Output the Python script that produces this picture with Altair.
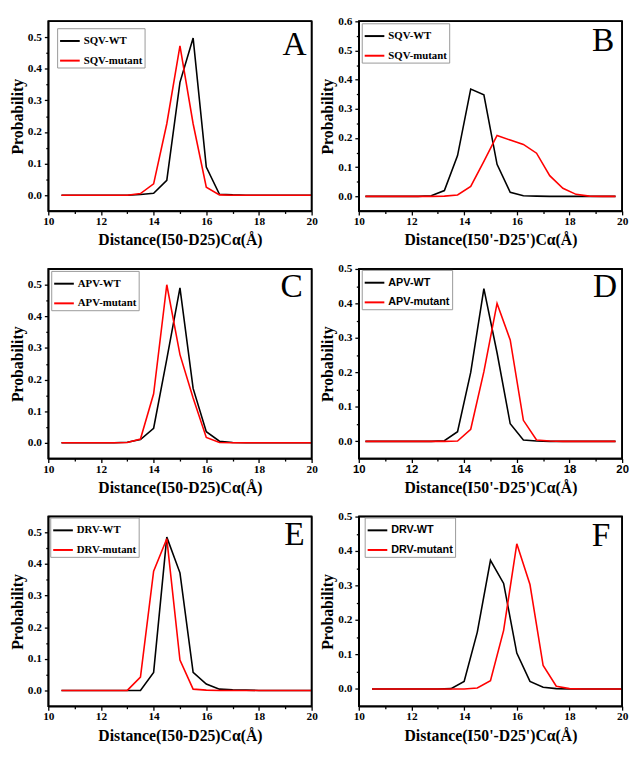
import altair as alt
import pandas as pd

# ---------------- data ----------------
X_HALF = [10.5, 11.0, 11.5, 12.0, 12.5, 13.0, 13.5, 14.0, 14.5, 15.0,
          15.5, 16.0, 16.5, 17.0, 17.5, 18.0, 18.5, 19.0, 19.5, 20.0]
X_QUARTER = [10.25, 10.75, 11.25, 11.75, 12.25, 12.75, 13.25, 13.75, 14.25, 14.75,
             15.25, 15.75, 16.25, 16.75, 17.25, 17.75, 18.25, 18.75, 19.25, 19.75]

A_WT = [0, 0, 0, 0, 0, 0, 0.002, 0.006, 0.047, 0.357, 0.497, 0.089, 0.003, 0.001, 0, 0, 0, 0, 0, 0]
A_MUT = [0, 0, 0, 0, 0, 0, 0.005, 0.036, 0.226, 0.472, 0.226, 0.025, 0.001, 0, 0, 0, 0, 0, 0, 0]

B_WT = [0, 0, 0, 0, 0, 0.002, 0.02, 0.14, 0.368, 0.348, 0.11, 0.014, 0.002, 0.001, 0, 0, 0, 0, 0, 0]
B_MUT = [0, 0, 0, 0, 0, 0, 0.001, 0.005, 0.034, 0.12, 0.209, 0.193, 0.178, 0.148, 0.071, 0.028, 0.007, 0.001, 0, 0]

C_WT = [0, 0, 0, 0, 0, 0.002, 0.01, 0.046, 0.265, 0.49, 0.172, 0.035, 0.005, 0.001, 0, 0, 0, 0, 0, 0]
C_MUT = [0, 0, 0, 0, 0, 0.001, 0.012, 0.155, 0.5, 0.279, 0.142, 0.017, 0.001, 0, 0, 0, 0, 0, 0, 0]

D_WT = [0, 0, 0, 0, 0, 0, 0.002, 0.028, 0.2, 0.443, 0.257, 0.051, 0.004, 0.001, 0, 0, 0, 0, 0, 0]
D_MUT = [0, 0, 0, 0, 0, 0, 0, 0.001, 0.035, 0.202, 0.4, 0.294, 0.061, 0.004, 0.001, 0, 0, 0, 0, 0]

E_WT = [0, 0, 0, 0, 0, 0, 0, 0.057, 0.485, 0.372, 0.057, 0.02, 0.004, 0.002, 0.001, 0, 0, 0, 0, 0]
E_MUT = [0, 0, 0, 0, 0, 0, 0.042, 0.377, 0.48, 0.096, 0.004, 0.001, 0, 0, 0, 0, 0, 0, 0, 0]

F_WT = [0, 0, 0, 0, 0, 0, 0.001, 0.022, 0.165, 0.373, 0.306, 0.104, 0.022, 0.005, 0.001, 0, 0, 0, 0, 0]
F_MUT = [0, 0, 0, 0, 0, 0, 0, 0, 0.003, 0.024, 0.17, 0.421, 0.303, 0.068, 0.008, 0.001, 0, 0, 0, 0]

X_TICKS = [10, 11, 12, 13, 14, 15, 16, 17, 18, 19, 20]
Y_TICKS_055 = [0, 0.05, 0.1, 0.15, 0.2, 0.25, 0.3, 0.35, 0.4, 0.45, 0.5]
Y_TICKS_06 = [0, 0.05, 0.1, 0.15, 0.2, 0.25, 0.3, 0.35, 0.4, 0.45, 0.5, 0.55, 0.6]
Y_TICKS_05 = [0, 0.05, 0.1, 0.15, 0.2, 0.25, 0.3, 0.35, 0.4, 0.45, 0.5]

TITLE_I50 = "Distance(I50-D25)C\u03b1(\u00c5)"
TITLE_I50P = "Distance(I50'-D25')C\u03b1(\u00c5)"

SERIF = "Liberation Serif"
SANS = "Liberation Sans"
W = 268
H = 193


def panel(letter, drug, xs, wt, mut, ytop, yticks, xtitle, legend_font, xtick_font,
          lx, ly, letter_dx, letter_base):
    wt_name = f"{drug}-WT"
    mut_name = f"{drug}-mutant"
    df = pd.DataFrame({
        "d": xs + xs,
        "p": wt + mut,
        "s": [wt_name] * len(xs) + [mut_name] * len(xs),
    })
    is_tenth = "abs(datum.value*10 - round(datum.value*10)) < 0.001"
    xaxis = alt.Axis(
        values=X_TICKS, title=xtitle, grid=False,
        labelExpr="datum.value % 2 == 0 ? datum.label : ''",
        labelOverlap=False, labelFlush=False,
        labelFont=xtick_font, labelFontWeight="bold", labelFontSize=11.5, labelColor="black",
        labelPadding=1,
        tickColor="black", tickWidth=1.3,
        tickSize={"condition": {"test": "datum.value % 2 == 0", "value": 4}, "value": 2.5},
        domainColor="black", domainWidth=1.5,
        titleFont=SERIF, titleFontWeight="bold", titleFontSize=16, titleColor="black",
        titlePadding=5,
    )
    yaxis = alt.Axis(
        values=yticks, title="Probability", grid=False,
        labelExpr=f"{is_tenth} ? format(datum.value, '.1f') : ''",
        labelOverlap=False, labelFlush=False,
        labelFont=SERIF, labelFontWeight="bold", labelFontSize=11.5, labelColor="black",
        labelPadding=3,
        tickColor="black", tickWidth=1.3,
        tickSize={"condition": {"test": is_tenth, "value": 4}, "value": 2.5},
        domainColor="black", domainWidth=1.5,
        titleFont=SERIF, titleFontWeight="bold", titleFontSize=16, titleColor="black",
        titlePadding=2,
    )
    legend = alt.Legend(
        title=None, orient="none", legendX=lx, legendY=ly,
        symbolType="stroke", symbolSize=400, symbolStrokeWidth=2,
        labelFont=legend_font, labelFontWeight="bold", labelFontSize=11, labelColor="black",
        labelOffset=3, rowPadding=4, padding=2,
        fillColor="white", strokeColor="#999999",
    )
    lines = alt.Chart(df).mark_line(strokeWidth=1.6).encode(
        x=alt.X("d:Q", scale=alt.Scale(domain=[10, 20], nice=False, zero=False), axis=xaxis),
        y=alt.Y("p:Q", scale=alt.Scale(domain=[-0.05, ytop], nice=False, zero=False), axis=yaxis),
        color=alt.Color("s:N", scale=alt.Scale(domain=[wt_name, mut_name], range=["black", "#ff0000"]),
                        legend=legend),
    )
    one = alt.Data(values=[{"t": letter}])
    label = alt.Chart(one).mark_text(
        font=SERIF, fontSize=34, fontWeight="normal", color="black",
        align="right", baseline="alphabetic",
    ).encode(
        text="t:N",
        x=alt.value(W - letter_dx),
        y=alt.value(letter_base),
    )
    frame = alt.Chart(one).mark_rect(filled=False, stroke="black", strokeWidth=1.5).encode(
        x=alt.value(0), x2=alt.value(W), y=alt.value(0), y2=alt.value(H)
    )
    frame_top = alt.Chart(one).mark_rule(color="black", strokeWidth=1.5).encode(
        x=alt.value(0), x2=alt.value(W), y=alt.value(0)
    )
    frame_right = alt.Chart(one).mark_rule(color="black", strokeWidth=1.5).encode(
        x=alt.value(W), y=alt.value(0), y2=alt.value(H)
    )
    return alt.layer(lines, label, frame, frame_top, frame_right).properties(width=W, height=H)


pA = panel("A", "SQV", X_HALF, A_WT, A_MUT, 0.55, Y_TICKS_055, TITLE_I50, SERIF, SERIF, 9, 7, 5, 34)
pB = panel("B", "SQV", X_QUARTER, B_WT, B_MUT, 0.6, Y_TICKS_06, TITLE_I50P, SERIF, SERIF, 3, 2, 8, 30)
pC = panel("C", "APV", X_HALF, C_WT, C_MUT, 0.55, Y_TICKS_055, TITLE_I50, SERIF, SERIF, 3, 2, 9, 29)
pD = panel("D", "APV", X_QUARTER, D_WT, D_MUT, 0.5, Y_TICKS_05, TITLE_I50P, SANS, SANS, 3, 1, 5, 29)
pE = panel("E", "DRV", X_HALF, E_WT, E_MUT, 0.55, Y_TICKS_055, TITLE_I50, SERIF, SERIF, 2, 1, 7, 29)
pF = panel("F", "DRV", X_HALF, F_WT, F_MUT, 0.5, Y_TICKS_05, TITLE_I50P, SANS, SERIF, 6, 1, 12, 30)

chart = alt.ConcatChart(
    concat=[pA, pB, pC, pD, pE, pF],
    columns=2,
    spacing={"row": 59, "column": 48},
    bounds="flush",
).resolve_scale(color="independent").resolve_legend(color="independent").properties(
    padding=0, background="white"
).configure_view(stroke="black", strokeWidth=1.5)

chart.save("out.html", embed_options={"renderer": "svg", "actions": False})
